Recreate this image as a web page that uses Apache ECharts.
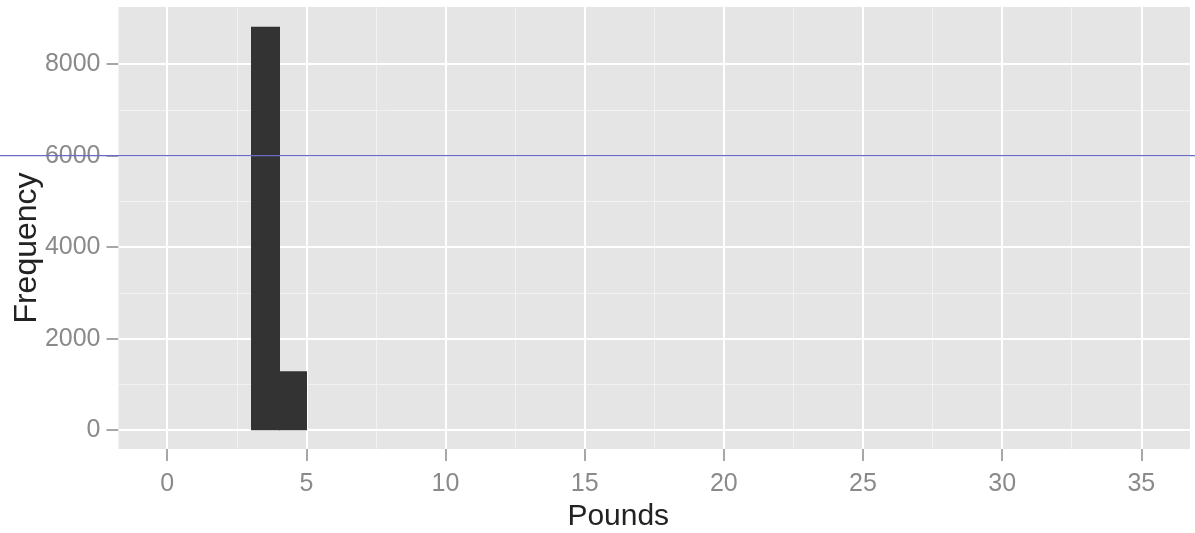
<!DOCTYPE html>
<html>
<head>
<meta charset="utf-8">
<script src="https://cdn.jsdelivr.net/npm/echarts@6/dist/echarts.min.js"></script>
<style>
html,body{margin:0;padding:0;background:#fff;}
#c{width:1195px;height:533px;}
</style>
</head>
<body>
<div id="c"></div>
<script>
// Histogram data (bin width 1 pound)
const binStarts = [3, 4];
const binCounts = [8820, 1290];
const binWidth = 1;

// Axis ticks
const xTicks = [0, 5, 10, 15, 20, 25, 30, 35];
const xMinor = [2.5, 7.5, 12.5, 17.5, 22.5, 27.5, 32.5];
const yTicks = [0, 2000, 4000, 6000, 8000];
const yMinor = [1000, 3000, 5000, 7000];
const refLineValue = 6000;

const chart = echarts.init(document.getElementById('c'), null, {renderer: 'canvas'});

const labelFont = {color: '#8a8a8a', fontSize: 25, fontFamily: 'Liberation Sans', formatter: v => String(v)};

function vLines(vals, color, w) {
  return vals.map(v => ({xAxis: v, lineStyle: {color: color, width: w, type: 'solid'}}));
}
function hLines(vals, color, w) {
  return vals.map(v => ({yAxis: v, lineStyle: {color: color, width: w, type: 'solid'}}));
}

const option = {
  animation: false,
  backgroundColor: '#ffffff',
  grid: {
    left: 118.5, right: 5, top: 7, bottom: 84,
    containLabel: false, outerBoundsMode: 'none',
    show: true, backgroundColor: '#E5E5E5', borderWidth: 0
  },
  xAxis: {
    type: 'value', min: -1.75, max: 36.75,
    name: 'Pounds', nameLocation: 'middle', nameGap: 53, nameMoveOverlap: false,
    nameTextStyle: {color: '#222', fontSize: 30, fontFamily: 'Liberation Sans', padding: [0, 72, 0, 0]},
    axisLine: {show: true, onZero: false, lineStyle: {color: 'rgba(0,0,0,0)'}},
    axisTick: {show: true, customValues: xTicks, length: 12, lineStyle: {color: '#8a8a8a', width: 1.5}},
    axisLabel: Object.assign({customValues: xTicks, margin: 23}, labelFont),
    splitLine: {show: false}
  },
  yAxis: {
    type: 'value', min: -410, max: 9250,
    name: 'Frequency', nameLocation: 'middle', nameGap: 75, nameRotate: 90, nameMoveOverlap: false,
    nameTextStyle: {color: '#222', fontSize: 32, fontFamily: 'Liberation Sans', padding: [0, 40, 0, 0]},
    axisLine: {show: true, onZero: false, lineStyle: {color: 'rgba(0,0,0,0)'}},
    axisTick: {show: true, customValues: yTicks, length: 12, lineStyle: {color: '#8a8a8a', width: 1.5}},
    axisLabel: Object.assign({customValues: yTicks, margin: 18}, labelFont),
    splitLine: {show: false}
  },
  series: [
    {
      type: 'line', data: [], silent: true, z: 1,
      markLine: {
        silent: true, symbol: 'none', label: {show: false}, animation: false,
        data: [].concat(
          vLines(xMinor, '#F2F2F2', 1),
          hLines(yMinor, '#F2F2F2', 1),
          vLines(xTicks, '#FFFFFF', 2),
          hLines(yTicks, '#FFFFFF', 2)
        )
      }
    },
    {
      type: 'custom', z: 5,
      data: binStarts.map((s, i) => [s, s + binWidth, binCounts[i]]),
      encode: {x: [0, 1], y: 2},
      renderItem: function (params, api) {
        const p0 = api.coord([api.value(0), api.value(2)]);
        const p1 = api.coord([api.value(1), 0]);
        const x0 = Math.round(p0[0]), x1 = Math.round(p1[0]) + 1;
        return {
          type: 'rect',
          shape: {x: x0, y: p0[1], width: x1 - x0, height: p1[1] - p0[1]},
          style: {fill: '#333333'}
        };
      }
    }
  ]
};
chart.setOption(option);

const yRef = chart.convertToPixel({yAxisIndex: 0}, refLineValue);
chart.setOption({
  graphic: [{
    type: 'line', z: 100, silent: true,
    shape: {x1: 0, y1: yRef, x2: 1195, y2: yRef},
    style: {stroke: '#6a6ac0', lineWidth: 1.2}
  }]
});
</script>
</body>
</html>
